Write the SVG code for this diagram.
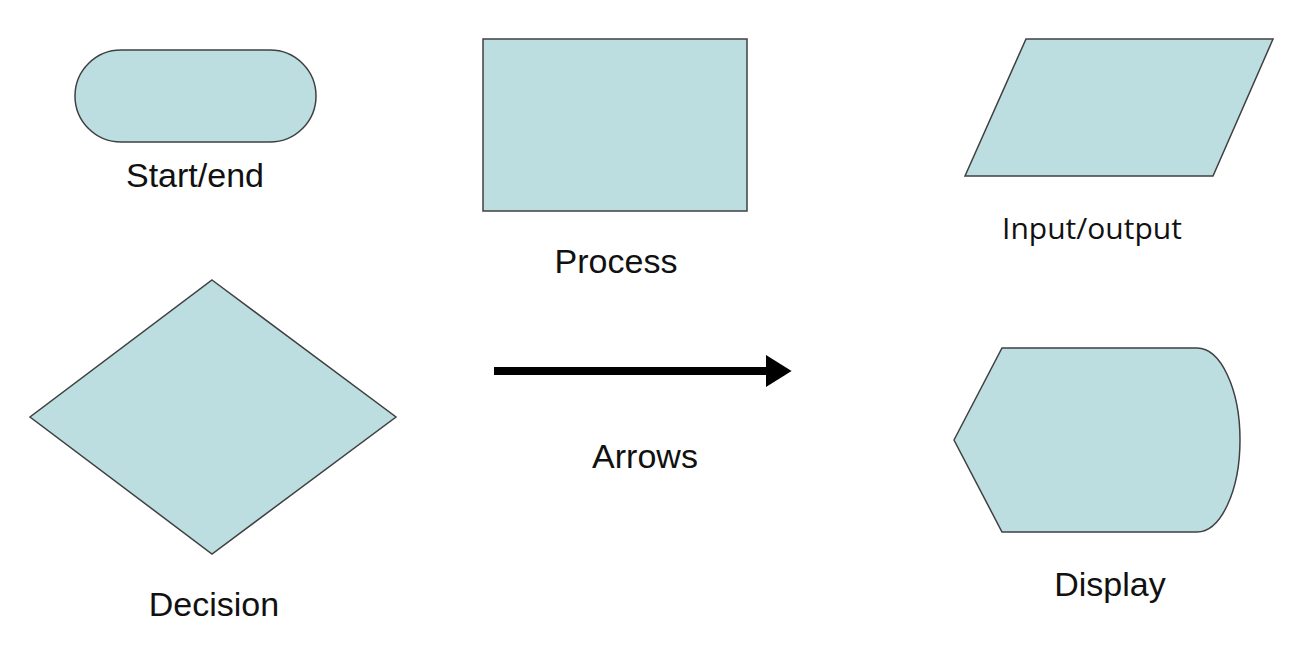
<svg xmlns="http://www.w3.org/2000/svg" width="1306" height="650" viewBox="0 0 1306 650">
<style>
.shape{fill:#bcdee1;stroke:#404040;stroke-width:1.5}
.lbl{font-family:"Liberation Sans",Arial,sans-serif;font-size:34px;fill:#111;text-anchor:middle}
.lbl2{font-family:"Open Sans","Liberation Sans",sans-serif;font-size:30px;fill:#111;text-anchor:middle}
</style>
<defs>
<marker id="ah" markerWidth="4" markerHeight="4" refX="0" refY="2" orient="auto" markerUnits="strokeWidth">
<path d="M0,0 L3.2,2 L0,4 Z" fill="#000"/>
</marker>
</defs>
<rect width="1306" height="650" fill="#fff"/>
<g id="start-end">
<rect class="shape" x="75" y="50" width="241" height="92" rx="46" ry="46"/>
<text class="lbl" x="195" y="187">Start/end</text>
</g>
<g id="process">
<rect class="shape" x="483" y="39" width="264" height="172"/>
<text class="lbl" x="616" y="273">Process</text>
</g>
<g id="input-output">
<polygon class="shape" points="1026,39 1273,39 1213,176 965,176"/>
<text class="lbl2" x="1092" y="239">Input/output</text>
</g>
<g id="decision">
<polygon class="shape" points="212,280 396,417 212,554 30,417"/>
<text class="lbl" x="214" y="616">Decision</text>
</g>
<g id="display">
<path class="shape" d="M954,440 L1002,348 L1197,348 A43,92 0 0 1 1197,532 L1002,532 Z"/>
<text class="lbl" x="1110" y="596">Display</text>
</g>
<g id="connectors">
<line x1="494" y1="371" x2="766" y2="371" stroke="#000" stroke-width="8" marker-end="url(#ah)"/>
<text class="lbl" x="645" y="468">Arrows</text>
</g>
</svg>
